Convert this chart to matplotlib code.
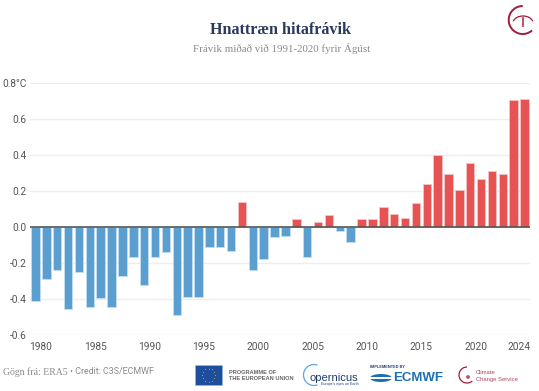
import matplotlib
matplotlib.use('Agg')
import matplotlib.pyplot as plt
from matplotlib.patches import Arc, Circle, Ellipse, Rectangle
import numpy as np

# Data
years = list(range(1979, 2025))
anomalies = [-0.41, -0.285, -0.237, -0.455, -0.25, -0.44, -0.395, -0.44, -0.272, -0.167,
             -0.322, -0.167, -0.139, -0.489, -0.385, -0.385, -0.107, -0.111, -0.133, 0.141,
             -0.239, -0.176, -0.052, -0.046, 0.044, -0.163, 0.03, 0.07, -0.02, -0.08,
             0.044, 0.044, 0.111, 0.074, 0.054, 0.135, 0.243, 0.402, 0.296, 0.209,
             0.356, 0.269, 0.311, 0.296, 0.709, 0.715]
tick_years = [1980, 1985, 1990, 1995, 2000, 2005, 2010, 2015, 2020, 2024]
y_ticks = [-0.6, -0.4, -0.2, 0.0, 0.2, 0.4, 0.6, 0.8]
y_labels = ['-0.6', '-0.4', '-0.2', '0.0', '0.2', '0.4', '0.6', '0.8°C']

W, H = 539, 391
fig = plt.figure(figsize=(W / 100, H / 100), dpi=100, facecolor='white')

# Chart
ax = fig.add_axes([30 / W, 1 - 335.3 / H, 500 / W, 252 / H])
colors = ['#e75353' if v > 0 else '#5a9fd0' for v in anomalies]
edges = ['#f6c4c4' if v > 0 else '#c4def0' for v in anomalies]
ax.bar(np.array(years) + 0.5, anomalies, width=0.78, color=colors, edgecolor=edges,
       linewidth=0.6, zorder=2)
ax.axhline(0, color='#555555', linewidth=1.2, zorder=3)
ax.set_xlim(1979, 2025)
ax.set_ylim(-0.6, 0.8)
ax.set_yticks(y_ticks)
ax.set_yticklabels(y_labels, fontfamily='Roboto', fontsize=7.3, color='#555555')
ax.set_xticks(tick_years)
ax.set_xticklabels([str(y) for y in tick_years], fontfamily='Roboto', fontsize=7.3, color='#555555')
ax.tick_params(length=0)
ax.tick_params(axis='x', pad=5)
ax.tick_params(axis='y', pad=2.5)
ax.grid(axis='y', color='#eeeeee', linewidth=1, zorder=0)
ax.set_axisbelow(True)
for s in ax.spines.values():
    s.set_visible(False)

# Titles, footer and logos placed in pixel coordinates
deco = fig.add_axes([0, 0, 1, 1], facecolor='none')
deco.set_xlim(0, W)
deco.set_ylim(H, 0)
deco.axis('off')

deco.text(281, 30, 'Hnattræn hitafrávik', family='Liberation Serif', fontweight='bold',
          fontsize=11.6, color='#2b3a5c', ha='center', va='center')
deco.text(282, 49, 'Frávik miðað við 1991-2020 fyrir Ágúst', family='Liberation Serif',
          fontsize=7.8, color='#8a8a8a', ha='center', va='center')
deco.text(3, 372, 'Gögn frá: ERA5', family='Liberation Serif', fontsize=7, color='#8a8a8a', va='center')
deco.text(70, 372, '• Credit: C3S/ECMWF', family='Roboto', fontsize=6.4, color='#8a8a8a', va='center')

# top right logo
deco.add_patch(Arc((522.7, 20), 28, 28, angle=0, theta1=48, theta2=270, color='#a01c3c', linewidth=1.4))
deco.add_patch(Arc((523, 23), 20, 14, angle=0, theta1=190, theta2=350, color='#a01c3c', linewidth=0.9))
deco.plot([523, 523], [18, 26], color='#c05060', linewidth=1.4)

# EU flag
deco.add_patch(Rectangle((195, 365), 27, 20, facecolor='#1f4e9c', edgecolor='#9fb4d4', linewidth=0.5))
star_angles = np.deg2rad(np.arange(0, 360, 30))
deco.scatter(208.5 + 6.5 * np.cos(star_angles), 375 + 6.5 * np.sin(star_angles),
             s=1.2, color='#e8d44a', marker='*', linewidths=0)
deco.text(229, 372, 'PROGRAMME OF', family='Liberation Sans', fontweight='bold', fontsize=4.1,
          color='#666666', va='center')
deco.text(229, 379, 'THE EUROPEAN UNION', family='Liberation Sans', fontweight='bold', fontsize=4.1,
          color='#666666', va='center')

# Copernicus
deco.add_patch(Arc((314, 375), 21, 21, angle=0, theta1=70, theta2=290, color='#5aa7d8', linewidth=0.9))
deco.text(334, 378, 'opernicus', family='Liberation Sans', fontsize=8, color='#1d3f72',
          ha='center', va='center')
deco.text(340, 384.5, 'Europe\'s eyes on Earth', family='Liberation Sans', fontsize=2.6,
          color='#1d3f72', ha='center', va='center')

# ECMWF
deco.text(370, 367, 'IMPLEMENTED BY', family='Liberation Sans', fontweight='bold', fontsize=2.8,
          color='#1d3f72', va='center')
deco.add_patch(Ellipse((381, 378), 22, 8, facecolor='#1f6fb5', edgecolor='none'))
deco.add_patch(Rectangle((370, 377.3), 23, 1.4, facecolor='white', edgecolor='none'))
deco.text(393, 378, 'ECMWF', family='Liberation Sans', fontweight='bold', fontsize=9.5,
          color='#1f6fb5', va='center')

# Climate Change Service
deco.add_patch(Arc((467, 375), 16, 16, angle=0, theta1=48, theta2=270, color='#a01c3c', linewidth=0.9))
deco.add_patch(Circle((468, 377), 1.2, color='#c05060'))
deco.text(476, 372, 'Climate', family='Liberation Sans', fontsize=4.2, color='#a8485c', va='center')
deco.text(476, 380, 'Change Service', family='Liberation Sans', fontsize=4.2, color='#a8485c', va='center')

plt.savefig('out.png', dpi=100)
